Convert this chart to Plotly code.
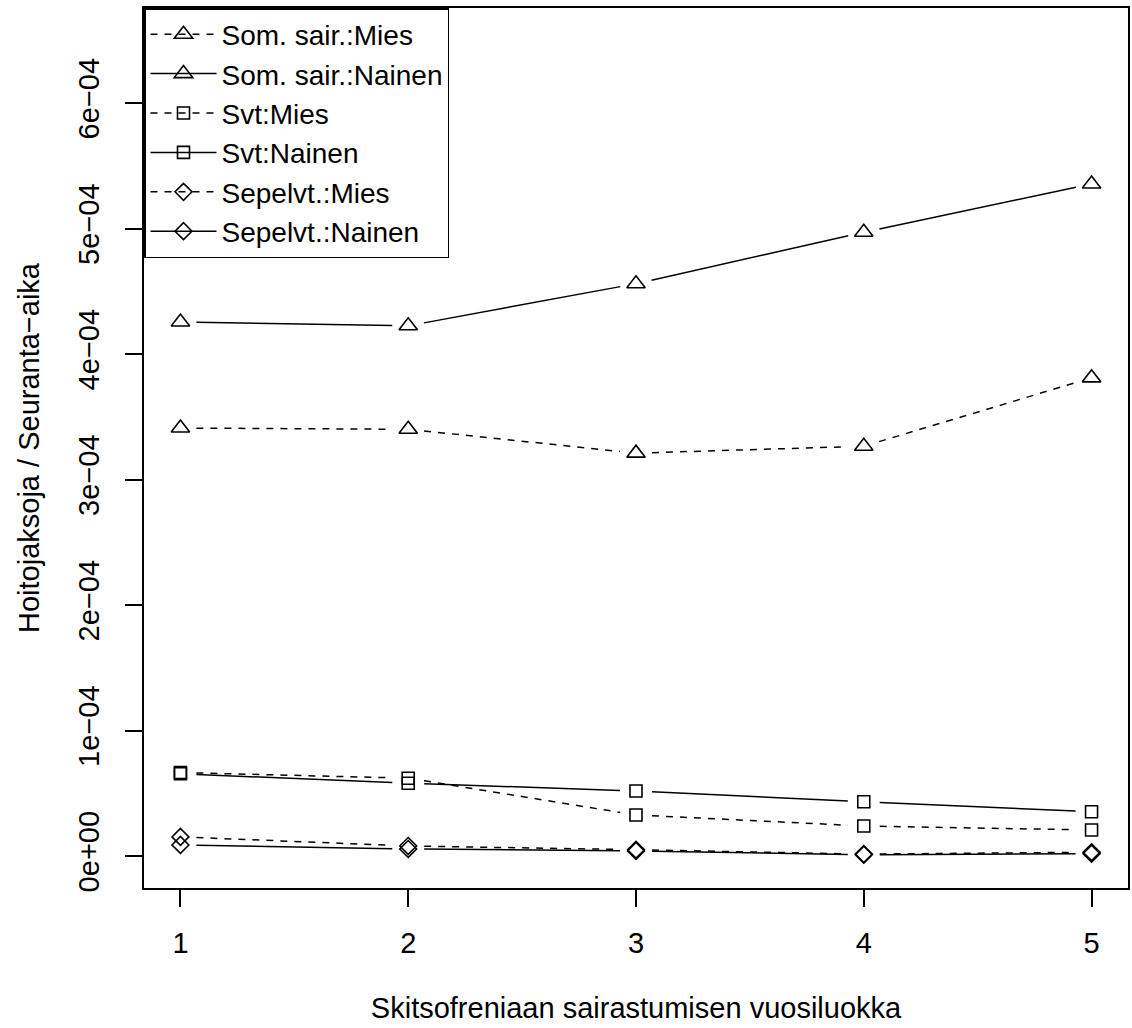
import math
import plotly.graph_objects as go

# ---- data ----
vuosiluokka = [1, 2, 3, 4, 5]
som_mies = [3.41e-4, 3.40e-4, 3.21e-4, 3.265e-4, 3.81e-4]
som_nainen = [4.255e-4, 4.225e-4, 4.56e-4, 4.97e-4, 5.355e-4]
svt_mies = [0.665e-4, 0.62e-4, 0.327e-4, 0.239e-4, 0.207e-4]
svt_nainen = [0.655e-4, 0.58e-4, 0.518e-4, 0.432e-4, 0.353e-4]
sep_mies = [0.152e-4, 0.08e-4, 0.05e-4, 0.015e-4, 0.03e-4]
sep_nainen = [0.088e-4, 0.056e-4, 0.04e-4, 0.01e-4, 0.018e-4]
series_names = ["Som. sair.:Mies", "Som. sair.:Nainen", "Svt:Mies", "Svt:Nainen",
                "Sepelvt.:Mies", "Sepelvt.:Nainen"]
y_tickvals = [0, 1e-4, 2e-4, 3e-4, 4e-4, 5e-4, 6e-4]
y_ticktext = ["0e+00", "1e\u221204", "2e\u221204", "3e\u221204", "4e\u221204", "5e\u221204", "6e\u221204"]
x_title = "Skitsofreniaan sairastumisen vuosiluokka"
y_title = "Hoitojaksoja / Seuranta\u2212aika"

# ---- layout geometry ----
W, H = 1132, 1028
ML, MR, MT, MB = 144, 2, 8, 140
XR = [0.84, 5.16]
YR = [-0.255e-4, 6.757e-4]
PW, PH = W - ML - MR, H - MT - MB
SX = PW / (XR[1] - XR[0])
SY = PH / (YR[1] - YR[0])
GAP = 16  # px gap between line ends and point centres (R type="b")

FONT = "Liberation Sans, Arial, Helvetica, sans-serif"
FS = 29

def gapped(xs, ys):
    gx, gy = [], []
    for i in range(len(xs) - 1):
        dx, dy = xs[i + 1] - xs[i], ys[i + 1] - ys[i]
        L = math.hypot(dx * SX, dy * SY)
        if L <= 2 * GAP:
            continue
        f = GAP / L
        gx += [xs[i] + f * dx, xs[i + 1] - f * dx, None]
        gy += [ys[i] + f * dy, ys[i + 1] - f * dy, None]
    return gx, gy

all_series = [som_mies, som_nainen, svt_mies, svt_nainen, sep_mies, sep_nainen]
symbols = ["triangle-up-open", "triangle-up-open", "square-open", "square-open",
           "diamond-open", "diamond-open"]
sizes = [16, 16, 12, 12, 13, 13]
dashes = ["7px,7px", "solid", "7px,7px", "solid", "7px,7px", "solid"]

fig = go.Figure()
for name, ys, sym, sz, dash in zip(series_names, all_series, symbols, sizes, dashes):
    gx, gy = gapped(vuosiluokka, ys)
    line = dict(color="black", width=1.5, dash=dash)
    marker = dict(symbol=sym, size=sz, color="black", line=dict(color="black", width=1.6))
    fig.add_trace(go.Scatter(x=gx, y=gy, mode="lines", line=line, legendgroup=name,
                             showlegend=False, hoverinfo="skip"))
    fig.add_trace(go.Scatter(x=vuosiluokka, y=ys, mode="markers", marker=marker,
                             legendgroup=name, showlegend=False, name=name))
    fig.add_trace(go.Scatter(x=[None], y=[None], mode="lines+markers", line=line,
                             marker=marker, name=name, legendgroup=name, showlegend=True))

axis_common = dict(showline=True, linecolor="black", linewidth=1.5, mirror=True,
                   ticks="outside", ticklen=17, tickwidth=1.5, tickcolor="black",
                   showgrid=False, zeroline=False,
                   tickfont=dict(family=FONT, size=FS, color="black"))

fig.update_layout(
    width=W, height=H,
    margin=dict(l=ML, r=MR, t=MT, b=MB, pad=0),
    paper_bgcolor="white", plot_bgcolor="white",
    font=dict(family=FONT, size=FS, color="black"),
    xaxis=dict(range=XR, tickvals=vuosiluokka, ticktext=[str(v) for v in vuosiluokka],
               ticklabelstandoff=11,
               title=dict(text=x_title, font=dict(family=FONT, size=FS), standoff=40),
               **axis_common),
    yaxis=dict(range=YR, tickvals=y_tickvals, ticktext=y_ticktext, tickangle=-90,
               ticklabelstandoff=15,
               title=dict(text=y_title, font=dict(family=FONT, size=FS), standoff=25),
               **axis_common),
    legend=dict(x=0, y=1, xanchor="left", yanchor="top", bgcolor="white",
                bordercolor="black", borderwidth=1.5, tracegroupgap=0,
                itemwidth=66, font=dict(family=FONT, size=28, color="black")),
    showlegend=True,
)

fig.write_html("out.html")
